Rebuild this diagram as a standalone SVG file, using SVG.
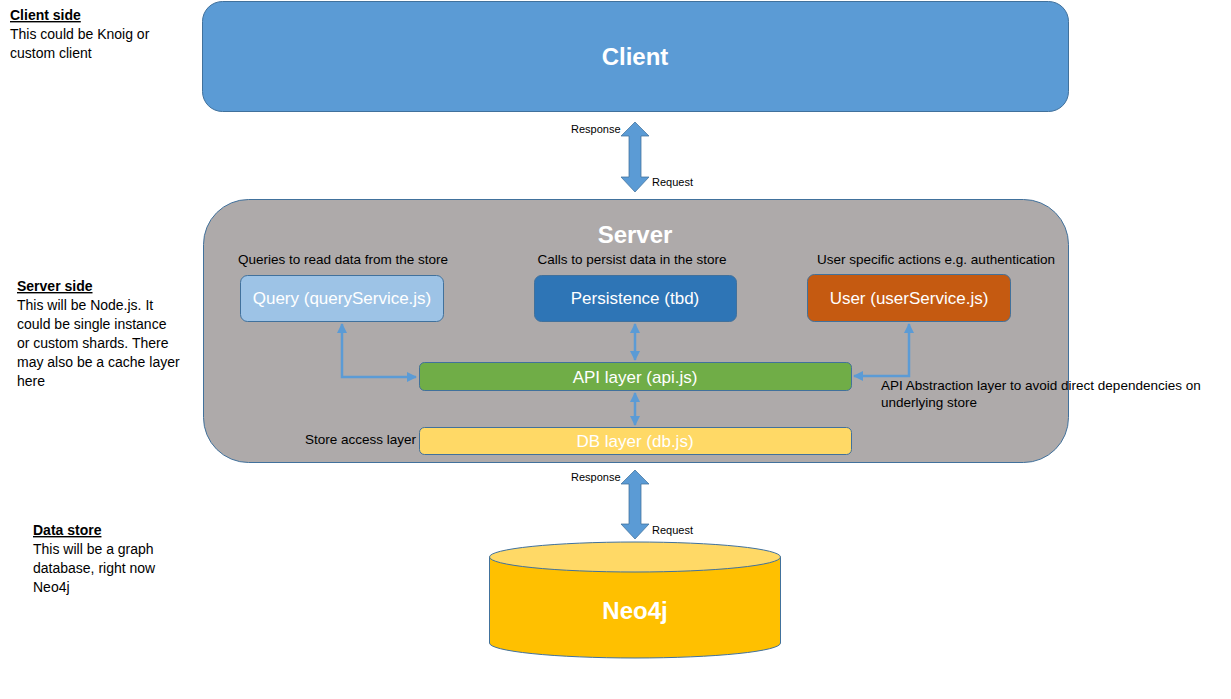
<svg xmlns="http://www.w3.org/2000/svg" width="1231" height="699" viewBox="0 0 1231 699">
<style>
text{font-family:"Liberation Sans",Arial,sans-serif;}
.note{font-size:14px;fill:#000;}
.head{font-weight:bold;text-decoration:underline;}
.lbl{font-size:13.5px;fill:#000;}
.small{font-size:11px;fill:#000;}
.ntext{font-size:17px;fill:#fff;text-anchor:middle;dominant-baseline:central;}
.big{font-size:24px;font-weight:bold;fill:#fff;text-anchor:middle;dominant-baseline:central;}
.box{stroke:#41719C;stroke-width:1;}
.conn{fill:none;stroke:#5B9BD5;stroke-width:2.5;}
.block{fill:#5B9BD5;stroke:#41719C;stroke-width:0.75;}
</style>
<defs>
<marker id="ah" viewBox="0 0 10 10" refX="9" refY="5" markerWidth="4" markerHeight="4" orient="auto-start-reverse" markerUnits="strokeWidth">
<path d="M0,0 L10,5 L0,10 z" fill="#5B9BD5"/>
</marker>
</defs>

<g id="notes">
<text class="note" x="10" y="20"><tspan class="head">Client side</tspan></text>
<text class="note" x="10" y="39">This could be Knoig or</text>
<text class="note" x="10" y="58">custom client</text>
<text class="note" x="17" y="291"><tspan class="head">Server side</tspan></text>
<text class="note" x="17" y="310">This will be Node.js. It</text>
<text class="note" x="17" y="329">could be single instance</text>
<text class="note" x="17" y="348">or custom shards. There</text>
<text class="note" x="17" y="367">may also be a cache layer</text>
<text class="note" x="17" y="386">here</text>
<text class="note" x="33" y="535"><tspan class="head">Data store</tspan></text>
<text class="note" x="33" y="554">This will be a graph</text>
<text class="note" x="33" y="573">database, right now</text>
<text class="note" x="33" y="592">Neo4j</text>
</g>

<g id="client">
<rect class="box" x="202.5" y="1.5" width="866" height="110" rx="20" fill="#5B9BD5"/>
<text class="big" x="635" y="56">Client</text>
</g>

<g id="server">
<rect class="box" x="203.5" y="199.5" width="865" height="263" rx="45" fill="#AEAAAA"/>
<text class="big" x="635" y="234">Server</text>
<text class="lbl" x="343" y="264" text-anchor="middle">Queries to read data from the store</text>
<text class="lbl" x="632" y="264" text-anchor="middle">Calls to persist data in the store</text>
<text class="lbl" x="936" y="264" text-anchor="middle">User specific actions e.g. authentication</text>
<text class="lbl" x="416" y="444" text-anchor="end">Store access layer</text>
</g>

<g id="query">
<rect class="box" x="240.5" y="275.5" width="203" height="46" rx="7" fill="#9DC3E6"/>
<text class="ntext" x="342" y="298">Query (queryService.js)</text>
</g>
<g id="persistence">
<rect class="box" x="534.5" y="275.5" width="202" height="46" rx="7" fill="#2E75B6"/>
<text class="ntext" x="635" y="298">Persistence (tbd)</text>
</g>
<g id="user">
<rect class="box" x="807.5" y="274.5" width="203" height="47" rx="7" fill="#C55A11"/>
<text class="ntext" x="909" y="298">User (userService.js)</text>
</g>
<g id="api">
<rect class="box" x="419.5" y="362.5" width="432" height="28" rx="5" fill="#70AD47"/>
<text class="ntext" x="635" y="377">API layer (api.js)</text>
</g>
<g id="db">
<rect class="box" x="419.5" y="427.5" width="432" height="27" rx="5" fill="#FFD966"/>
<text class="ntext" x="635" y="441">DB layer (db.js)</text>
</g>

<g id="neo4j">
<path class="box" d="M489.5,557 L489.5,643 A145.5,15 0 0 0 780.5,643 L780.5,557 Z" fill="#FFC000"/>
<ellipse class="box" cx="635" cy="557" rx="145.5" ry="15" fill="#FFD966"/>
<text class="big" x="635" y="610">Neo4j</text>
</g>

<g id="api-note">
<text class="lbl" x="881" y="390">API Abstraction layer to avoid direct dependencies on</text>
<text class="lbl" x="881" y="407">underlying store</text>
</g>

<g id="connectors">
<path class="block" d="M635,122 L649,136 L641,136 L641,177 L649,177 L635,192 L621,177 L629,177 L629,136 L621,136 Z"/>
<text class="small" x="571" y="133">Response</text>
<text class="small" x="652" y="186">Request</text>
<path class="block" d="M635,470 L649,484 L641,484 L641,524 L649,524 L635,539 L621,524 L629,524 L629,484 L621,484 Z"/>
<text class="small" x="571" y="481">Response</text>
<text class="small" x="652" y="534">Request</text>
<path class="conn" d="M342,324 L342,377 L416,377" marker-start="url(#ah)" marker-end="url(#ah)"/>
<path class="conn" d="M635,324 L635,360" marker-start="url(#ah)" marker-end="url(#ah)"/>
<path class="conn" d="M909,324 L909,376 L854,376" marker-start="url(#ah)" marker-end="url(#ah)"/>
<path class="conn" d="M635,393 L635,425" marker-start="url(#ah)" marker-end="url(#ah)"/>
</g>
</svg>
